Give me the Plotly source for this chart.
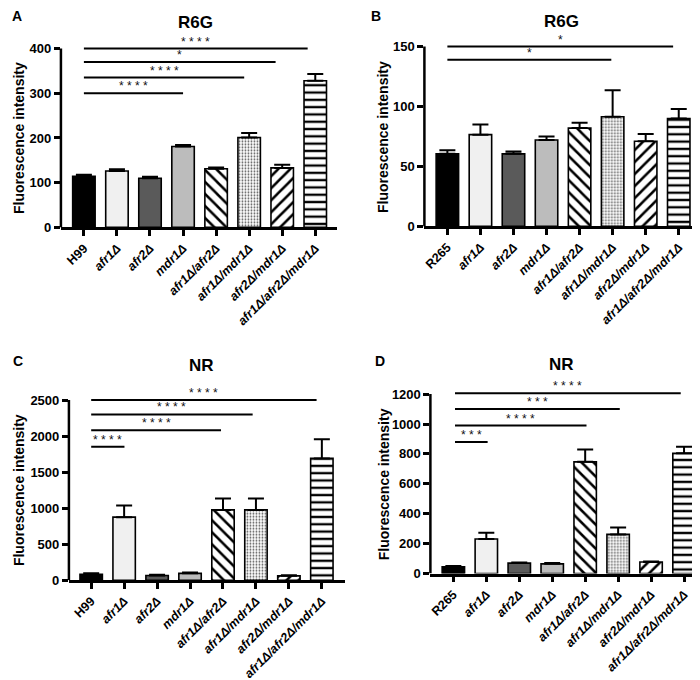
import plotly.graph_objects as go

W, H = 700, 680

# ---------------- data ----------------
strains_h99 = ["H99", "afr1Δ", "afr2Δ", "mdr1Δ", "afr1Δ/afr2Δ", "afr1Δ/mdr1Δ", "afr2Δ/mdr1Δ", "afr1Δ/afr2Δ/mdr1Δ"]
strains_r265 = ["R265", "afr1Δ", "afr2Δ", "mdr1Δ", "afr1Δ/afr2Δ", "afr1Δ/mdr1Δ", "afr2Δ/mdr1Δ", "afr1Δ/afr2Δ/mdr1Δ"]

r6g_h99_mean = [114, 126, 110, 181, 131, 201, 133, 328]
r6g_h99_sd = [4, 4, 3, 3, 3, 10, 7, 15]
r6g_r265_mean = [60.5, 76.5, 60.5, 72, 82, 91.5, 71, 90]
r6g_r265_sd = [3, 8.5, 2, 3, 4.5, 22, 6, 8]
nr_h99_mean = [80, 875, 65, 95, 975, 975, 60, 1690]
nr_h99_sd = [15, 160, 10, 10, 160, 160, 10, 265]
nr_r265_mean = [45, 231, 70, 65, 747, 262, 77, 804]
nr_r265_sd = [5, 42, 4, 5, 83, 46, 3, 44]

# significance comparisons: (from bar, to bar, height, label)
sig_A = [(0, 3.0, 300, "****"), (0, 4.85, 335, "****"), (0, 5.8, 370, "*"), (0, 6.77, 400, "****")]
sig_B = [(0, 4.96, 139, "*"), (0, 6.83, 150, "*")]
sig_C = [(0, 1.01, 1850, "****"), (0, 3.94, 2080, "****"), (0, 4.9, 2300, "****"), (0, 6.84, 2500, "****")]
sig_D = [(0.05, 1.04, 880, "***"), (0.05, 4.04, 990, "****"), (0.05, 5.05, 1100, "***"), (0.05, 6.9, 1205, "****")]

y_ticks_A = [0, 100, 200, 300, 400]
y_ticks_B = [0, 50, 100, 150]
y_ticks_C = [0, 500, 1000, 1500, 2000, 2500]
y_ticks_D = [0, 200, 400, 600, 800, 1000, 1200]

titles = ["R6G", "R6G", "NR", "NR"]
letters = ["A", "B", "C", "D"]

# ---------------- styles ----------------
bar_colors = ["#000000", "#f0f0f0", "#5a5a5a", "#bcbcbc", "white", "white", "white", "white"]
pat_shapes = ["", "", "", "", "\\", ".", "/", "-"]
pat_sizes = [8, 8, 8, 8, 8.5, 3, 8.5, 7.3]
pat_solid = [0.3, 0.3, 0.3, 0.3, 0.3, 0.28, 0.3, 0.32]
pat_fg = ["black", "black", "black", "black", "black", "#555555", "black", "black"]

FONT = "Liberation Sans"

# panel geometry in pixels: axis left, axis right, first bar center, spacing, y of 0, y of top tick
geo = [
    dict(xl=52, xr=328, c0=75, s=33.1, y0=222, yt=41),
    dict(xl=416, xr=693, c0=439, s=33.1, y0=221, yt=39),
    dict(xl=60, xr=336, c0=82.3, s=33.0, y0=579, yt=396.7),
    dict(xl=422, xr=697, c0=445, s=33.0, y0=572.3, yt=390.7),
]
title_pos = [(187, 15), (553, 14), (193, 362), (553, 361)]
letter_pos = [(8, 8), (368, 8), (9, 357), (372, 357)]
ytitle_x = [10, 375, 10, 375]

panels = [
    (strains_h99, r6g_h99_mean, r6g_h99_sd, sig_A, y_ticks_A),
    (strains_r265, r6g_r265_mean, r6g_r265_sd, sig_B, y_ticks_B),
    (strains_h99, nr_h99_mean, nr_h99_sd, sig_C, y_ticks_C),
    (strains_r265, nr_r265_mean, nr_r265_sd, sig_D, y_ticks_D),
]


def fmt_label(s):
    if s in ("H99", "R265"):
        return "<b>" + s + "</b>"
    return "<b><i>" + s + "</i></b>"


fig = go.Figure()
annotations = []
shapes = []

for k, (cats, mean, sd, sig, yt) in enumerate(panels):
    n = k + 1
    g = geo[k]
    xs = list(range(len(cats)))
    for b in xs:
        marker = dict(color=bar_colors[b], line=dict(color="black", width=1.6))
        if pat_shapes[b]:
            marker["pattern"] = dict(shape=pat_shapes[b], fgcolor=pat_fg[b], bgcolor="white",
                                     size=pat_sizes[b], solidity=pat_solid[b], fillmode="replace")
        fig.add_trace(go.Bar(
            x=[xs[b]], y=[mean[b]],
            xaxis=f"x{n}", yaxis=f"y{n}",
            width=0.68,
            marker=marker,
            error_y=dict(type="data", array=[sd[b]], arrayminus=[0], symmetric=False,
                         color="black", thickness=2, width=8),
            showlegend=False,
        ))
    T = yt[-1]
    R = T * 1.06
    ppu = (g["y0"] - g["yt"]) / T
    top_px = g["y0"] - R * ppu
    xr0 = (g["xl"] - g["c0"]) / g["s"]
    xr1 = (g["xr"] - g["c0"]) / g["s"]
    fig.update_layout(**{
        f"xaxis{n}": dict(
            domain=[g["xl"] / W, g["xr"] / W], range=[xr0, xr1], anchor=f"y{n}",
            tickmode="array", tickvals=xs, ticktext=[fmt_label(c) for c in cats],
            tickangle=-45, ticks="outside", ticklen=6, tickwidth=2.5, tickcolor="black",
            showline=True, linewidth=2.5, linecolor="black", showgrid=False, zeroline=False,
            tickfont=dict(family=FONT, size=12.5, color="black"),
        ),
        f"yaxis{n}": dict(
            domain=[1 - g["y0"] / H, 1 - top_px / H], range=[0, R], anchor=f"x{n}",
            tickmode="array", tickvals=yt, ticktext=["<b>%d</b>" % v for v in yt],
            ticks="outside", ticklen=6, tickwidth=2.5,
            tickcolor="black", showline=False, showgrid=False, zeroline=False,
            tickfont=dict(family=FONT, size=13, color="black"),
        ),
    })
    # y axis line ending at top tick
    shapes.append(dict(type="line", xref="paper", yref=f"y{n}",
                       x0=g["xl"] / W, x1=g["xl"] / W, y0=0, y1=T,
                       line=dict(color="black", width=2.5)))
    # significance bars
    for (i, j, h, lab) in sig:
        shapes.append(dict(type="line", xref=f"x{n}", yref=f"y{n}", x0=i, x1=j, y0=h, y1=h,
                           line=dict(color="black", width=2)))
        annotations.append(dict(x=(i + j) / 2, y=h, xref=f"x{n}", yref=f"y{n}",
                                text=" ".join(lab), showarrow=False, yanchor="bottom", yshift=-2,
                                font=dict(family=FONT, size=12, color="#111111")))
    # titles
    tx, ty = title_pos[k]
    annotations.append(dict(x=tx / W, y=1 - ty / H, xref="paper", yref="paper", text="<b>" + titles[k] + "</b>",
                            showarrow=False, xanchor="center", yanchor="middle",
                            font=dict(family=FONT, size=17, color="black")))
    lx, ly = letter_pos[k]
    annotations.append(dict(x=lx / W, y=1 - ly / H, xref="paper", yref="paper", text="<b>" + letters[k] + "</b>",
                            showarrow=False, xanchor="center", yanchor="middle",
                            font=dict(family=FONT, size=14, color="black")))
    annotations.append(dict(x=ytitle_x[k] / W, y=1 - ((g["y0"] + g["yt"]) / 2) / H,
                            xref="paper", yref="paper", text="<b>Fluorescence intensity</b>",
                            textangle=-90, showarrow=False, xanchor="center", yanchor="middle",
                            font=dict(family=FONT, size=14, color="black")))

fig.update_layout(
    width=W, height=H,
    margin=dict(l=0, r=0, t=0, b=0),
    paper_bgcolor="white", plot_bgcolor="white",
    shapes=shapes, annotations=annotations,
    barmode="overlay",
)

fig.write_html("out.html")
